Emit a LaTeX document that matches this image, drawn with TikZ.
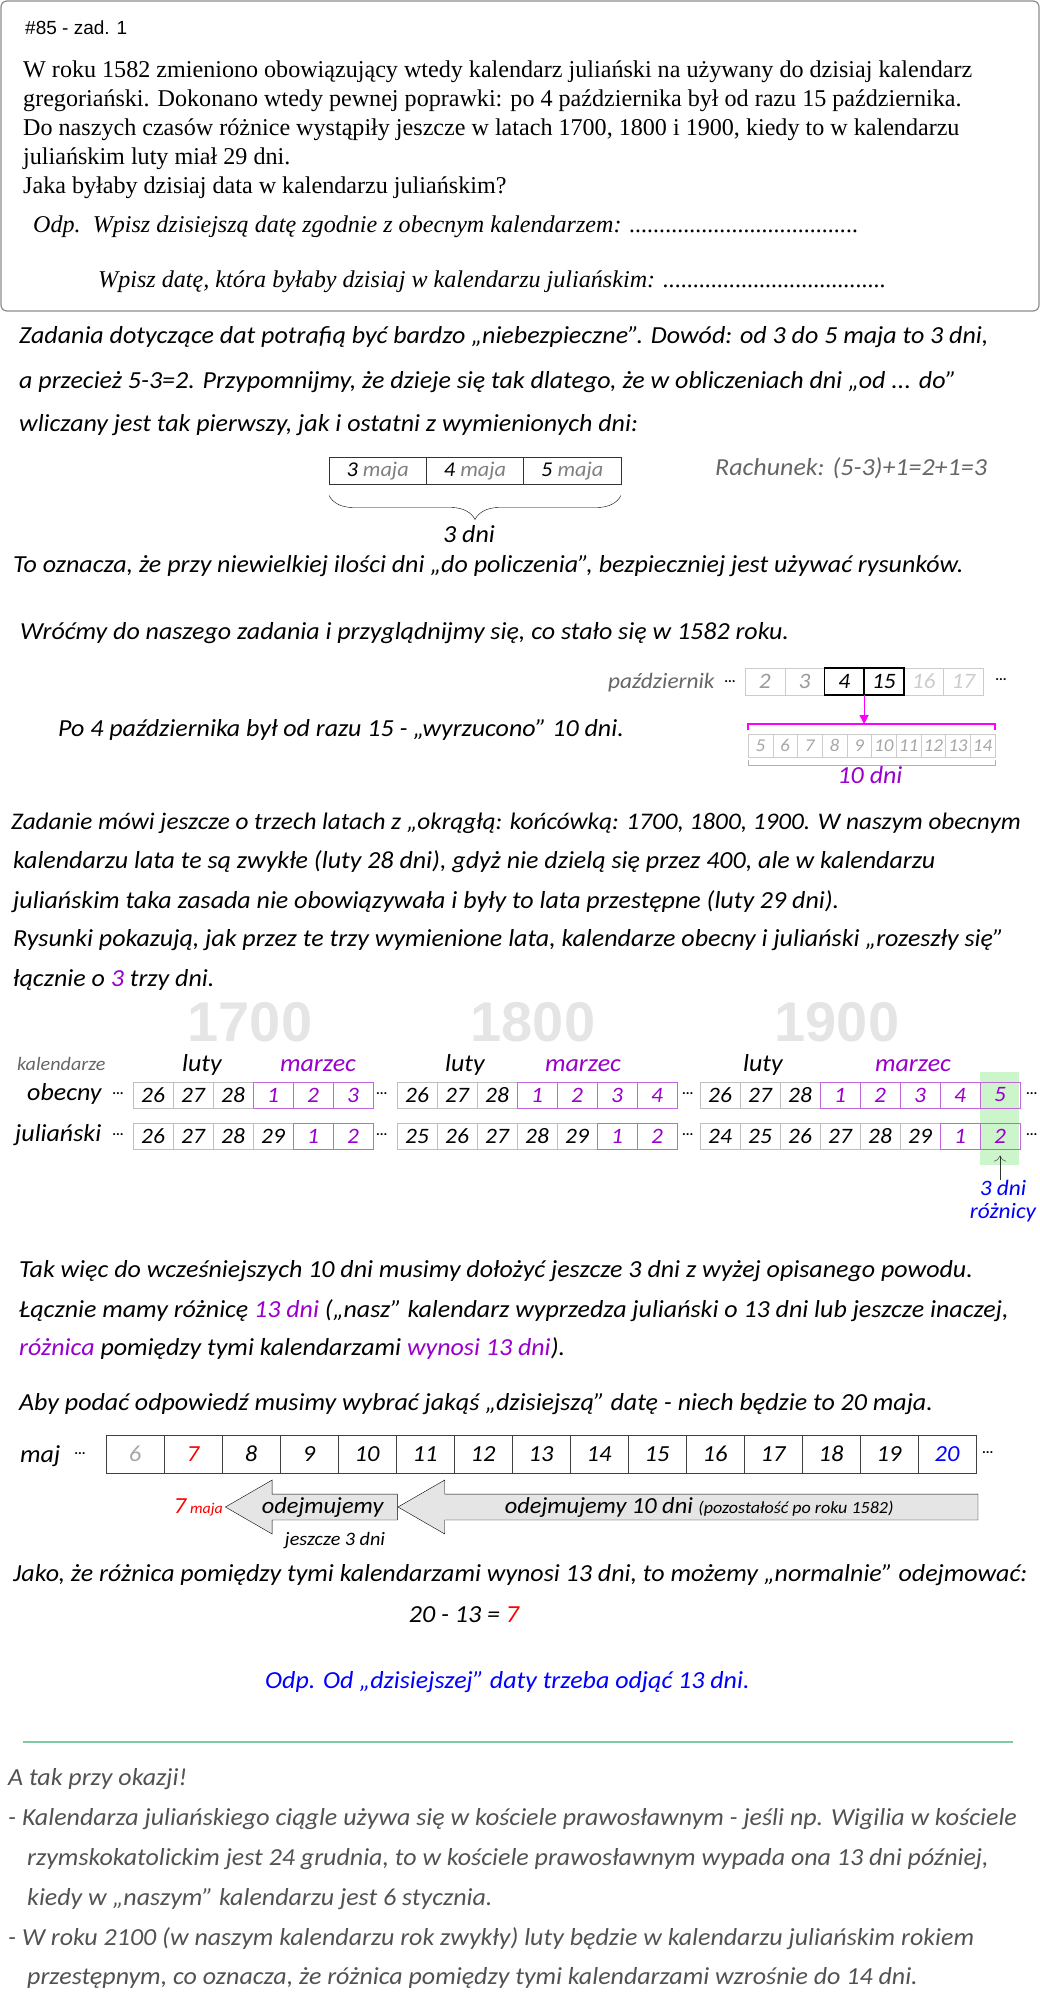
\documentclass[tikz,border=0pt]{standalone}
\usepackage{fontspec}
\setmainfont{Liberation Serif}
\newfontfamily\reka{Carlito}[FakeStretch=1.06]
\newfontfamily\arialf{Liberation Sans}
\usepackage{tikz}
\usetikzlibrary{positioning,arrows.meta,shapes.arrows,decorations.pathreplacing}
\definecolor{fiolet}{RGB}{153,0,204}
\definecolor{roz}{RGB}{255,0,255}
\definecolor{zielen}{RGB}{204,245,204}
\definecolor{linia}{RGB}{130,200,160}
\newcommand{\kropki}[1]{\makebox[#1][l]{\leaders\hbox{.}\hfill}}
\newcommand{\wiel}[1]{\fontsize{#1}{#1}\selectfont}

\begin{document}
\begin{tikzpicture}[x=1pt,y=-1pt]
	\tikzstyle{txt} = [anchor=west, inner sep=0pt, text height=16pt, text depth=5pt, font=\reka\itshape\wiel{24.5}]
	\tikzstyle{szary} = [txt, text=black!60]
	\tikzstyle{uwaga} = [txt, text=black!68]
	\tikzstyle{zad} = [anchor=west, inner sep=0pt, font=\wiel{24.1}]
	\tikzstyle{dzien} = [draw=black!25, outer sep=0pt, inner sep=0pt, minimum width=40pt, minimum height=26pt, font=\reka\itshape\wiel{22}]
	\tikzstyle{dzienF} = [dzien, draw=fiolet!60, text=fiolet]
	\tikzstyle{maja} = [dzien, draw=black!80, minimum width=97.3pt, minimum height=27pt, font=\reka\itshape\wiel{21}]
	\tikzstyle{pday} = [dzien, minimum width=39.7pt, minimum height=27pt, draw=black!20, text=black!40]
	\tikzstyle{sday} = [dzien, minimum width=24.7pt, minimum height=23pt, draw=black!20, text=black!35, font=\reka\itshape\wiel{18}]
	\tikzstyle{mday} = [dzien, draw=black!75, minimum width=58pt, minimum height=38pt, font=\reka\itshape\wiel{23}]
	\tikzstyle{rok} = [inner sep=0pt, font=\arialf\bfseries\wiel{56}, text=black!10]
	\tikzstyle{kropy} = [inner sep=0pt, font=\reka\wiel{14}]
	\tikzstyle{strz} = [single arrow, draw=black, fill=black!10, shape border rotate=180, minimum width=54pt, single arrow head extend=11pt, single arrow tip angle=60, inner sep=0pt, font=\reka\itshape\wiel{23}]

	\useasboundingbox (0,0) rectangle (1040,1993);

	% tresc zadania
	\draw[black!45, line width=1.2pt, rounded corners=6pt] (1,1) rectangle (1039,311);
	\node[anchor=west, inner sep=0pt, font=\arialf\wiel{19}] (nr) at (25,28) {\#85 - zad. 1};
	\node[zad] (t1) at (23,72) {W roku 1582 zmieniono obowiązujący wtedy kalendarz juliański na używany do dzisiaj kalendarz};
	\node[zad] (t2) at (23,101) {gregoriański. Dokonano wtedy pewnej poprawki: po 4 października był od razu 15 października.};
	\node[zad] (t3) at (23,130) {Do naszych czasów różnice wystąpiły jeszcze w latach 1700, 1800 i 1900, kiedy to w kalendarzu};
	\node[zad] (t4) at (23,159) {juliańskim luty miał 29 dni.};
	\node[zad] (t5) at (23,188) {Jaka byłaby dzisiaj data w kalendarzu juliańskim?};
	\node[zad, font=\itshape\wiel{24.1}] (t6) at (33,227) {Odp.\ \ Wpisz dzisiejszą datę zgodnie z obecnym kalendarzem: \kropki{229pt}};
	\node[zad, font=\itshape\wiel{24.1}] (t7) at (98,282) {Wpisz datę, która byłaby dzisiaj w kalendarzu juliańskim: \kropki{225pt}};

	% od 3 do 5 maja
	\node[txt] (a1) at (19,338) {Zadania dotyczące dat potrafią być bardzo „niebezpieczne”. Dowód: od 3 do 5 maja to 3 dni,};
	\node[txt] (a2) at (19,383) {a przecież 5-3=2. Przypomnijmy, że dzieje się tak dlatego, że w obliczeniach dni „od ... do”};
	\node[txt] (a3) at (19,426) {wliczany jest tak pierwszy, jak i ostatni z wymienionych dni:};
	\node[maja] (m1) at (377.7,471) {3 \textcolor{black!50}{maja}};
	\node[maja, right=0pt of m1] (m2) {4 \textcolor{black!50}{maja}};
	\node[maja, right=0pt of m2] (m3) {5 \textcolor{black!50}{maja}};
	\draw[decorate, decoration={brace, mirror, amplitude=24pt}] ([yshift=-11pt]m1.south west) -- ([yshift=-11pt]m3.south east);
	\node[txt, anchor=center] (trzy) at (469,537) {3 dni};
	\node[szary] (rach) at (715,470) {Rachunek: (5-3)+1=2+1=3};
	\node[txt] (a4) at (13,567) {To oznacza, że przy niewielkiej ilości dni „do policzenia”, bezpieczniej jest używać rysunków.};

	% rok 1582
	\node[txt] (a5) at (20,634) {Wróćmy do naszego zadania i przyglądnijmy się, co stało się w 1582 roku.};
	\node[szary, font=\reka\itshape\wiel{22}] (pazd) at (608,683) {październik};
	\node[kropy] (kp1) at (730,683) {···};
	\node[pday] (p1) at (764.85,681.5) {2};
	\node[pday, right=0pt of p1] (p2) {3};
	\node[pday, text=black, right=0pt of p2] (p3) {4};
	\node[pday, text=black, right=0pt of p3] (p4) {15};
	\node[pday, text=black!20, right=0pt of p4] (p5) {16};
	\node[pday, text=black!20, right=0pt of p5] (p6) {17};
	\draw[line width=1.4pt] (p3.north west) rectangle (p4.south east);
	\draw[line width=1.4pt] (p3.north east) -- (p3.south east);
	\node[kropy, right=12pt of p6] (kp2) {···};
	\node[txt] (a6) at (58,731) {Po 4 października był od razu 15 - „wyrzucono” 10 dni.};
	\node[sday] (b1) at (760.35,745.5) {5};
	\node[sday, right=0pt of b1] (b2) {6};
	\node[sday, right=0pt of b2] (b3) {7};
	\node[sday, right=0pt of b3] (b4) {8};
	\node[sday, right=0pt of b4] (b5) {9};
	\node[sday, right=0pt of b5] (b6) {10};
	\node[sday, right=0pt of b6] (b7) {11};
	\node[sday, right=0pt of b7] (b8) {12};
	\node[sday, right=0pt of b8] (b9) {13};
	\node[sday, right=0pt of b9] (b10) {14};
	\coordinate (klamra) at ([yshift=10pt]b1.north west);
	\draw[roz, line width=1.2pt] ([yshift=4pt]b1.north west) -- (klamra) -- ([yshift=10pt]b10.north east) -- ([yshift=4pt]b10.north east);
	\draw[roz, line width=1.2pt, -{Triangle[length=9pt,width=9pt]}] (p3.south east) -- (p3.south east |- klamra);
	\draw[black!30, line width=1pt] ([yshift=-3pt]b1.south west) -- ([yshift=-8pt]b1.south west) -- ([yshift=-8pt]b10.south east) -- ([yshift=-3pt]b10.south east);
	\node[txt, anchor=center, text=fiolet] (dziesiec) at (870,778) {10 dni};

	% lata 1700, 1800, 1900
	\node[txt, font=\reka\itshape\wiel{23.8}] (a7) at (11,824) {Zadanie mówi jeszcze o trzech latach z „okrągłą: końcówką: 1700, 1800, 1900. W naszym obecnym};
	\node[txt] (a8) at (13,863) {kalendarzu lata te są zwykłe (luty 28 dni), gdyż nie dzielą się przez 400, ale w kalendarzu};
	\node[txt] (a9) at (13,903) {juliańskim taka zasada nie obowiązywała i były to lata przestępne (luty 29 dni).};
	\node[txt] (a10) at (13,941) {Rysunki pokazują, jak przez te trzy wymienione lata, kalendarze obecny i juliański „rozeszły się”};
	\node[txt] (a11) at (13,981) {łącznie o \textcolor{fiolet}{3} trzy dni.};
	\node[rok] (r1700) at (250,1022) {1700};
	\node[rok] (r1800) at (533,1022) {1800};
	\node[rok] (r1900) at (837,1022) {1900};
	\fill[zielen] (980,1072) rectangle (1019,1165);
	\node[szary, font=\reka\itshape\wiel{19}] (kal) at (17,1065) {kalendarze};
	\node[txt] (obec) at (27,1095) {obecny};
	\node[txt] (jul) at (15,1136) {juliański};
	\node[txt, anchor=center] (lutyA) at (202,1066) {luty};
	\node[txt, anchor=center, text=fiolet] (marA) at (318,1066) {marzec};
	\node[txt, anchor=center] (lutyB) at (465,1066) {luty};
	\node[txt, anchor=center, text=fiolet] (marB) at (583,1066) {marzec};
	\node[txt, anchor=center] (lutyC) at (763,1066) {luty};
	\node[txt, anchor=center, text=fiolet] (marC) at (913,1066) {marzec};
	\node[kropy] (kA1) at (118,1095) {···};
	\node[kropy] (kA2) at (118,1136) {···};
	% 1700
	\node[dzien] (oA1) at (153,1095) {26};
	\node[dzien, right=0pt of oA1] (oA2) {27};
	\node[dzien, right=0pt of oA2] (oA3) {28};
	\node[dzienF, right=0pt of oA3] (oA4) {1};
	\node[dzienF, right=0pt of oA4] (oA5) {2};
	\node[dzienF, right=0pt of oA5] (oA6) {3};
	\node[dzien] (jA1) at (153,1136.5) {26};
	\node[dzien, right=0pt of jA1] (jA2) {27};
	\node[dzien, right=0pt of jA2] (jA3) {28};
	\node[dzien, right=0pt of jA3] (jA4) {29};
	\node[dzienF, right=0pt of jA4] (jA5) {1};
	\node[dzienF, right=0pt of jA5] (jA6) {2};
	\node[kropy, right=3pt of oA6] (kB1) {···};
	\node[kropy, right=3pt of jA6] (kB2) {···};
	% 1800
	\node[dzien] (oB1) at (417,1095) {26};
	\node[dzien, right=0pt of oB1] (oB2) {27};
	\node[dzien, right=0pt of oB2] (oB3) {28};
	\node[dzienF, right=0pt of oB3] (oB4) {1};
	\node[dzienF, right=0pt of oB4] (oB5) {2};
	\node[dzienF, right=0pt of oB5] (oB6) {3};
	\node[dzienF, right=0pt of oB6] (oB7) {4};
	\node[dzien] (jB1) at (417,1136.5) {25};
	\node[dzien, right=0pt of jB1] (jB2) {26};
	\node[dzien, right=0pt of jB2] (jB3) {27};
	\node[dzien, right=0pt of jB3] (jB4) {28};
	\node[dzien, right=0pt of jB4] (jB5) {29};
	\node[dzienF, right=0pt of jB5] (jB6) {1};
	\node[dzienF, right=0pt of jB6] (jB7) {2};
	\node[kropy, right=5pt of oB7] (kC1) {···};
	\node[kropy, right=5pt of jB7] (kC2) {···};
	% 1900
	\node[dzien] (oC1) at (720,1095) {26};
	\node[dzien, right=0pt of oC1] (oC2) {27};
	\node[dzien, right=0pt of oC2] (oC3) {28};
	\node[dzienF, right=0pt of oC3] (oC4) {1};
	\node[dzienF, right=0pt of oC4] (oC5) {2};
	\node[dzienF, right=0pt of oC5] (oC6) {3};
	\node[dzienF, right=0pt of oC6] (oC7) {4};
	\node[dzienF, right=0pt of oC7] (oC8) {5};
	\node[dzien] (jC1) at (720,1136.5) {24};
	\node[dzien, right=0pt of jC1] (jC2) {25};
	\node[dzien, right=0pt of jC2] (jC3) {26};
	\node[dzien, right=0pt of jC3] (jC4) {27};
	\node[dzien, right=0pt of jC4] (jC5) {28};
	\node[dzien, right=0pt of jC5] (jC6) {29};
	\node[dzienF, right=0pt of jC6] (jC7) {1};
	\node[dzienF, right=0pt of jC7] (jC8) {2};
	\node[kropy, right=6pt of oC8] (kD1) {···};
	\node[kropy, right=6pt of jC8] (kD2) {···};
	\node[inner sep=0pt, align=center, text=blue, font=\reka\itshape\fontsize{22}{23}\selectfont] (roznica) at (1003,1201) {3 dni\\różnicy};
	\draw[black!80, -{To[length=6pt]}, shorten >=6pt] (roznica.north -| jC8) -- (jC8.south);

	% razem 13 dni
	\node[txt] (a12) at (19,1272) {Tak więc do wcześniejszych 10 dni musimy dołożyć jeszcze 3 dni z wyżej opisanego powodu.};
	\node[txt] (a13) at (19,1312) {Łącznie mamy różnicę \textcolor{fiolet}{13 dni} („nasz” kalendarz wyprzedza juliański o 13 dni lub jeszcze inaczej,};
	\node[txt] (a14) at (19,1350) {\textcolor{fiolet}{różnica} pomiędzy tymi kalendarzami \textcolor{fiolet}{wynosi 13 dni}).};
	\node[txt] (a15) at (19,1405) {Aby podać odpowiedź musimy wybrać jakąś „dzisiejszą” datę - niech będzie to 20 maja.};

	% maj
	\node[txt] (maj) at (20,1457) {maj};
	\node[kropy] (km1) at (80,1455) {···};
	\node[mday, text=black!35] (d6) at (135,1454) {6};
	\node[mday, text=red, right=0pt of d6] (d7) {7};
	\node[mday, right=0pt of d7] (d8) {8};
	\node[mday, right=0pt of d8] (d9) {9};
	\node[mday, right=0pt of d9] (d10) {10};
	\node[mday, right=0pt of d10] (d11) {11};
	\node[mday, right=0pt of d11] (d12) {12};
	\node[mday, right=0pt of d12] (d13) {13};
	\node[mday, right=0pt of d13] (d14) {14};
	\node[mday, right=0pt of d14] (d15) {15};
	\node[mday, right=0pt of d15] (d16) {16};
	\node[mday, right=0pt of d16] (d17) {17};
	\node[mday, right=0pt of d17] (d18) {18};
	\node[mday, right=0pt of d18] (d19) {19};
	\node[mday, text=blue, right=0pt of d19] (d20) {20};
	\node[kropy, right=6pt of d20] (km2) {···};
	\node[strz, minimum height=172pt, anchor=tip] (odj3) at (225,1507) {odejmujemy};
	\node[strz, minimum height=580pt, anchor=tip] (odj10) at (odj3.tail) {odejmujemy 10 dni {\wiel{17}(pozostałość po roku 1582)}};
	\node[inner sep=0pt, text=red, font=\reka\itshape\wiel{23}, left=2pt of odj3.tip] (siedem) {7\,{\wiel{15}maja}};
	\node[txt, anchor=center, font=\reka\itshape\wiel{19}] (jeszcze) at (335,1540) {jeszcze 3 dni};
	\node[txt] (a16) at (13,1576) {Jako, że różnica pomiędzy tymi kalendarzami wynosi 13 dni, to możemy „normalnie” odejmować:};
	\node[txt, anchor=center] (dzialanie) at (464,1617) {20 - 13 = \textcolor{red}{7}};
	\node[txt, text=blue] (odp) at (265,1683) {Odp. Od „dzisiejszej” daty trzeba odjąć 13 dni.};

	% przy okazji
	\draw[linia, line width=1.5pt] (23,1742) -- (1013,1742);
	\node[uwaga] (u1) at (8,1780) {A tak przy okazji!};
	\node[uwaga] (u2) at (8,1820) {- Kalendarza juliańskiego ciągle używa się w kościele prawosławnym - jeśli np. Wigilia w kościele};
	\node[uwaga] (u3) at (27,1860) {rzymskokatolickim jest 24 grudnia, to w kościele prawosławnym wypada ona 13 dni później,};
	\node[uwaga] (u4) at (27,1900) {kiedy w „naszym” kalendarzu jest 6 stycznia.};
	\node[uwaga] (u5) at (8,1940) {- W roku 2100 (w naszym kalendarzu rok zwykły) luty będzie w kalendarzu juliańskim rokiem};
	\node[uwaga] (u6) at (27,1979) {przestępnym, co oznacza, że różnica pomiędzy tymi kalendarzami wzrośnie do 14 dni.};
\end{tikzpicture}
\end{document}
